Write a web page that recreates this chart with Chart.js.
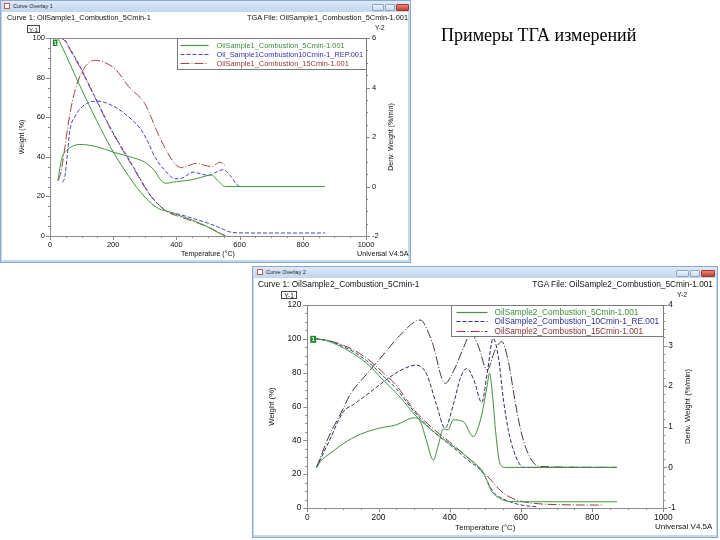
<!DOCTYPE html>
<html><head><meta charset="utf-8">
<script src="https://cdn.jsdelivr.net/npm/chart.js@4.4.0/dist/chart.umd.min.js"></script>
<style>
body{margin:0;width:720px;height:540px;background:#fff;position:relative;overflow:hidden;font-family:"Liberation Sans",Arial,sans-serif;color:#111;}
.win{position:absolute;box-sizing:border-box;background:#c4d8ef;border:1px solid #8aa9cf;}
.cont{position:absolute;background:#fff;}
.tbar{position:absolute;left:0;right:0;top:0;height:11px;background:linear-gradient(#dde9f7,#c2d6ee);}
.ttl{position:absolute;top:2px;font-size:5.5px;color:#222;white-space:nowrap;}
.ico{position:absolute;top:2px;width:6px;height:6px;border:1px solid #c55;background:#fff;box-sizing:border-box;}
.btn{position:absolute;top:3px;height:7px;box-sizing:border-box;border:1px solid #8ea6c4;background:linear-gradient(#eef4fb,#c9d9ec);border-radius:1px;}
.btn.x{background:linear-gradient(#e88a7a,#c5402c);border-color:#a33;}
canvas{position:absolute;}
.t{position:absolute;white-space:nowrap;line-height:1;}
.yb{position:absolute;border:1px solid #444;box-sizing:border-box;text-align:center;line-height:1;}
#title{position:absolute;left:441px;top:25px;font-family:"Liberation Serif","Times New Roman",serif;font-size:18px;color:#000;white-space:nowrap;}
</style></head>
<body>
<div class="win" style="left:0;top:0;width:411px;height:263px;">
  <div class="tbar"></div>
  <div class="ico" style="left:3px"></div>
  <div class="ttl" style="left:12px">Curve Overlay 1</div>
  <div class="btn" style="left:371px;width:12px"></div>
  <div class="btn" style="left:384px;width:10px"></div>
  <div class="btn x" style="left:395px;width:13px"></div>
  <div class="cont" style="left:2px;top:11px;width:405px;height:248px"></div>
</div>
<div class="win" style="left:252px;top:266px;width:466px;height:272px;">
  <div class="tbar"></div>
  <div class="ico" style="left:4px"></div>
  <div class="ttl" style="left:13px">Curve Overlay 2</div>
  <div class="btn" style="left:423px;width:13px"></div>
  <div class="btn" style="left:437px;width:10px"></div>
  <div class="btn x" style="left:448px;width:14px"></div>
  <div class="cont" style="left:2px;top:11px;width:460px;height:257px"></div>
</div>
<canvas id="c1" width="406" height="248" style="left:2px;top:12px"></canvas>
<canvas id="c2" width="462" height="257" style="left:254px;top:278px"></canvas>

<div class="t" style="left:7px;top:14px;font-size:7.4px">Curve 1: OilSample1_Combustion_5Cmin-1</div>
<div class="t" style="right:312px;top:14px;font-size:7.4px">TGA File: OilSample1_Combustion_5Cmin-1.001</div>
<div class="yb" style="left:27px;top:25px;width:13px;height:8px;font-size:6px;padding-top:1px">Y-1</div>
<div class="t" style="left:375px;top:25px;font-size:6.5px">Y-2</div>
<div class="t" style="left:357px;top:250px;font-size:7.2px">Universal V4.5A</div>

<div class="t" style="left:258px;top:280px;font-size:8.3px">Curve 1: OilSample2_Combustion_5Cmin-1</div>
<div class="t" style="right:7px;top:280px;font-size:8.3px">TGA File: OilSample2_Combustion_5Cmin-1.001</div>
<div class="yb" style="left:281px;top:291px;width:16px;height:8px;font-size:6.5px;padding-top:0.5px">Y-1</div>
<div class="t" style="left:677px;top:291px;font-size:7px">Y-2</div>
<div class="t" style="left:655px;top:523px;font-size:8px">Universal V4.5A</div>

<div id="title">Примеры ТГА измерений</div>

<script>
// ---------- shared ticks ----------
const xTickLabels = [0, 200, 400, 600, 800, 1000];

// ---------- Chart 1: OilSample1 ----------
const s1Names = ['OilSample1_Combustion_5Cmin-1.001', 'Oil_Sample1Combustion10Cmin-1_REP.001', 'OilSample1_Combustion_15Cmin-1.001'];
const s1LeftTicks = [0, 20, 40, 60, 80, 100];
const s1RightTicks = [-2, 0, 2, 4, 6];

const s1_5_wT = [25, 50, 100, 163, 200, 250, 300, 343, 380, 406, 453, 500, 538, 555];
const s1_5_w  = [100, 91.5, 74, 53.5, 42.5, 30, 19.7, 13.9, 12.1, 10.5, 7.9, 4.5, 1.2, 0];
const s1_10_wT = [30, 47, 60, 90, 142, 195, 258, 322, 374, 400, 450, 500, 540, 570, 600, 700, 870];
const s1_10_w  = [100, 99, 95.5, 87.2, 70.3, 53.5, 36.6, 19.7, 12.1, 11.3, 9, 6.5, 4, 2, 1.6, 1.5, 1.5];
const s1_15_wT = [28, 45, 60, 90, 142, 195, 258, 322, 374, 400, 450, 500, 530, 555];
const s1_15_w  = [100, 99, 95, 86.5, 70, 53, 36, 19.5, 12, 10.3, 7.6, 4.5, 2.2, 0.2];

const s1_5_dT = [25, 37, 53, 70, 95, 150, 200, 250, 300, 330, 350, 365, 400, 450, 500, 512, 530, 555, 870];
const s1_5_d  = [0.23, 1.12, 1.46, 1.62, 1.7, 1.6, 1.39, 1.21, 0.98, 0.65, 0.27, 0.13, 0.2, 0.27, 0.45, 0.47, 0.25, 0, 0];
const s1_10_dT = [40, 47, 55, 63, 80, 110, 150, 200, 250, 288, 310, 332, 364, 396, 420, 453, 480, 501, 530, 548, 570, 590, 601, 870];
const s1_10_d  = [0.17, 0.4, 1.3, 2.27, 2.85, 3.3, 3.45, 3.25, 2.8, 2.3, 1.8, 1.19, 0.65, 0.31, 0.35, 0.58, 0.5, 0.45, 0.6, 0.68, 0.45, 0.1, 0, 0];
const s1_15_dT = [26, 35, 45, 55, 70, 90, 115, 145, 175, 210, 248, 300, 320, 337, 374, 401, 417, 440, 465, 490, 511, 538, 559];
const s1_15_d  = [0.24, 0.6, 1.4, 2.3, 3.4, 4.3, 4.9, 5.1, 5.0, 4.7, 4.05, 3.35, 2.8, 2.27, 1.32, 0.85, 0.76, 0.85, 0.94, 0.85, 0.81, 0.98, 0.78];

// ---------- Chart 2: OilSample2 ----------
const s2Names = ['OilSample2_Combustion_5Cmin-1.001', 'OilSample2_Combustion_10Cmin-1_RE.001', 'OilSample2_Combustion_15Cmin-1.001'];
const s2LeftTicks = [0, 20, 40, 60, 80, 100, 120];
const s2RightTicks = [-1, 0, 1, 2, 3, 4];

const s2_5_wT = [25, 60, 120, 167, 213, 250, 279, 300, 350, 400, 450, 494, 505, 513, 525, 541, 555, 569, 600, 870];
const s2_5_w  = [100, 98.5, 92.4, 85.5, 75.6, 68, 61, 55.5, 46, 38, 30, 21, 16, 11.6, 8, 5.7, 4.3, 3.8, 3.7, 3.7];
const s2_10_wT = [25, 60, 120, 167, 213, 250, 300, 350, 400, 450, 494, 510, 522, 540, 569, 600, 648];
const s2_10_w  = [100, 98.8, 93.5, 87, 78, 70.5, 57, 46, 37.5, 28.5, 20.5, 14, 9.6, 6.5, 3.7, 1.8, 0.6];
const s2_15_wT = [25, 60, 120, 167, 213, 250, 300, 350, 400, 450, 494, 520, 541, 560, 588, 635, 700, 830];
const s2_15_w  = [100, 99, 94.5, 88.5, 80, 72.5, 58, 47.5, 39, 30, 21.5, 15.5, 10.6, 7.5, 4.7, 2.8, 2, 1.7];

const s2_5_dT = [26, 40, 54, 80, 100, 150, 200, 250, 300, 318, 335, 354, 368, 382, 395, 410, 438, 466, 490, 505, 512, 520, 530, 541, 555, 870];
const s2_5_d  = [0, 0.18, 0.28, 0.45, 0.58, 0.82, 0.96, 1.05, 1.22, 1.12, 0.65, 0.18, 0.55, 0.95, 0.92, 1.17, 1.13, 0.76, 1.3, 2.0, 2.32, 1.8, 0.8, 0.1, 0, 0];
const s2_10_dT = [26, 60, 101, 130, 167, 213, 260, 307, 335, 363, 387, 410, 430, 448, 468, 490, 505, 522, 537, 551, 565, 579, 595, 607, 870];
const s2_10_d  = [0, 0.62, 1.37, 1.55, 1.79, 2.1, 2.38, 2.52, 2.3, 1.54, 0.97, 1.54, 2.2, 2.44, 2.15, 1.6, 2.3, 3.18, 2.7, 1.66, 0.9, 0.43, 0.1, 0, 0];
const s2_15_dT = [26, 60, 101, 120, 167, 213, 260, 317, 350, 387, 415, 438, 460, 480, 505, 528, 546, 565, 583, 600, 616, 635, 654, 870];
const s2_15_d  = [0, 0.75, 1.45, 1.79, 2.3, 2.77, 3.25, 3.63, 3.1, 2.07, 2.45, 2.93, 3.3, 3.0, 2.4, 2.9, 3.1, 2.6, 1.66, 0.9, 0.43, 0.12, 0.02, 0];

// ---------- helpers ----------
const pts = (T, V) => T.map((t, i) => ({x: t, y: V[i]}));
const isIn = (arr, v) => arr.some(a => Math.abs(a - v) < 1e-6);
const FONT = '"Liberation Sans", Arial, sans-serif';

function ds(T, V, color, dash, axis, label) {
  return {label, data: pts(T, V), yAxisID: axis, borderColor: color, borderWidth: 1,
    borderDash: dash, pointRadius: 0, fill: false, cubicInterpolationMode: 'monotone'};
}

const deco = {
  id: 'deco',
  beforeDraw(chart) {
    const ctx = chart.ctx;
    ctx.save(); ctx.fillStyle = '#fff'; ctx.fillRect(0, 0, chart.width, chart.height); ctx.restore();
  },
  afterDraw(chart, args, o) {
    const {ctx, chartArea: a, scales} = chart;
    ctx.save();
    ctx.strokeStyle = o.axisColor; ctx.lineWidth = 1;
    ctx.beginPath(); ctx.moveTo(a.left, Math.round(a.top) + 0.5); ctx.lineTo(a.right, Math.round(a.top) + 0.5); ctx.stroke();
    ctx.beginPath();
    scales.x.ticks.forEach(t => {
      const p = Math.round(scales.x.getPixelForValue(t.value)) + 0.5;
      const len = isIn(o.xMajor, t.value) ? 4 : 2;
      ctx.moveTo(p, a.bottom); ctx.lineTo(p, a.bottom + len);
    });
    scales.y.ticks.forEach(t => {
      const p = Math.round(scales.y.getPixelForValue(t.value)) + 0.5;
      const len = isIn(o.yMajor, t.value) ? 4 : 2;
      ctx.moveTo(a.left - len, p); ctx.lineTo(a.left, p);
    });
    scales.y2.ticks.forEach(t => {
      const p = Math.round(scales.y2.getPixelForValue(t.value)) + 0.5;
      const len = isIn(o.y2Major, t.value) ? 4 : 2;
      ctx.moveTo(a.right, p); ctx.lineTo(a.right + len, p);
    });
    ctx.stroke();
    ctx.fillStyle = '#111';
    ctx.font = o.titleSize + 'px ' + FONT;
    ctx.textAlign = 'center'; ctx.textBaseline = 'middle';
    ctx.fillText('Temperature (°C)', (a.left + a.right) / 2, a.bottom + o.xTitleOff);
    ctx.save(); ctx.translate(a.left + o.yTitleOff, (a.top + a.bottom) / 2); ctx.rotate(-Math.PI / 2);
    ctx.fillText('Weight (%)', 0, 0); ctx.restore();
    ctx.save(); ctx.translate(a.right + o.y2TitleOff, (a.top + a.bottom) / 2); ctx.rotate(-Math.PI / 2);
    ctx.fillText('Deriv. Weight (%/min)', 0, 0); ctx.restore();
    const L = o.legend;
    const lx = Math.round(a.right - L.w) + 0.5, ly = Math.round(a.top) + 0.5;
    ctx.fillStyle = '#fff'; ctx.fillRect(lx, ly, L.w, L.h);
    ctx.strokeStyle = '#7a7a7a'; ctx.setLineDash([]); ctx.strokeRect(lx, ly, L.w, L.h);
    ctx.font = L.font + 'px ' + FONT; ctx.textAlign = 'left';
    L.names.forEach((n, i) => {
      const y = Math.round(ly + L.rowY[i]) + 0.5;
      ctx.strokeStyle = L.lineColors[i]; ctx.setLineDash(L.dashes[i]); ctx.lineWidth = 1.2;
      ctx.beginPath(); ctx.moveTo(lx + L.sx0, y); ctx.lineTo(lx + L.sx1, y); ctx.stroke();
      ctx.fillStyle = L.textColors[i];
      ctx.fillText(n, lx + L.tx, y);
    });
    ctx.setLineDash([]);
    const g = chart.data.datasets[0].data[0];
    const mx = scales.x.getPixelForValue(g.x), my = scales.y.getPixelForValue(g.y);
    const M = o.marker;
    ctx.fillStyle = '#1f8a2a';
    ctx.fillRect(mx + M.dx, my + M.dy, M.w, M.h);
    ctx.fillStyle = '#fff'; ctx.font = 'bold ' + M.fs + 'px ' + FONT; ctx.textAlign = 'center';
    ctx.fillText('1', mx + M.dx + M.w / 2, my + M.dy + M.h / 2 + 0.5);
    ctx.restore();
  }
};

function makeChart(id, datasets, c) {
  const tickFont = {family: FONT, size: c.tickSize};
  const fit = (prop, val) => (s) => { s[prop] = val; };
  return new Chart(document.getElementById(id), {
    type: 'line',
    data: {datasets},
    options: {
      responsive: false, animation: false, devicePixelRatio: 1,
      layout: {padding: {top: c.padTop, left: 0, right: 0, bottom: 0}},
      plugins: {legend: {display: false}, tooltip: {enabled: false}, deco: c.deco},
      scales: {
        x: {type: 'linear', min: 0, max: 1000, afterFit: fit('height', c.xH),
          grid: {display: false, drawTicks: false}, border: {display: true, color: c.axisColor},
          ticks: {stepSize: 50, autoSkip: false, maxRotation: 0, padding: c.xPad, font: tickFont, color: '#111',
            callback: v => isIn(xTickLabels, v) ? String(Math.round(v)) : ''}},
        y: {type: 'linear', position: 'left', min: c.yMin, max: c.yMax, afterFit: fit('width', c.yW),
          grid: {display: false, drawTicks: false}, border: {display: true, color: c.axisColor},
          ticks: {stepSize: 5, autoSkip: false, padding: c.yPad, font: tickFont, color: '#111',
            callback: v => isIn(c.yTicks, v) ? String(Math.round(v)) : ''}},
        y2: {type: 'linear', position: 'right', min: c.y2Min, max: c.y2Max, afterFit: fit('width', c.y2W),
          grid: {display: false, drawTicks: false}, border: {display: true, color: c.axisColor},
          ticks: {stepSize: c.y2Step, autoSkip: false, padding: c.y2Pad, font: tickFont, color: '#111',
            callback: v => isIn(c.y2Ticks, v) ? String(Math.round(v)) : ''}}
      }
    },
    plugins: [deco]
  });
}

const D_BLUE = [4, 2], D_RED = [9, 2, 1, 2];
const c1Col = ['#3f9a3f', '#4545c8', '#a34545'];
const c2W = ['#3f9a3f', '#3c3c8c', '#8a4040'];
const c2D = ['#3f8f3f', '#2e2e5e', '#4a3434'];

makeChart('c1', [
  ds(s1_5_wT, s1_5_w, c1Col[0], [], 'y', s1Names[0]),
  ds(s1_10_wT, s1_10_w, c1Col[1], D_BLUE, 'y', s1Names[1]),
  ds(s1_15_wT, s1_15_w, c1Col[2], D_RED, 'y', s1Names[2]),
  ds(s1_5_dT, s1_5_d, c1Col[0], [], 'y2', s1Names[0]),
  ds(s1_10_dT, s1_10_d, c1Col[1], D_BLUE, 'y2', s1Names[1]),
  ds(s1_15_dT, s1_15_d, c1Col[2], D_RED, 'y2', s1Names[2])
], {
  tickSize: 7.5, padTop: 26, xH: 24, yW: 48, y2W: 42, xPad: 4, yPad: 5, y2Pad: 6,
  yMin: 0, yMax: 100, yTicks: s1LeftTicks, y2Min: -2, y2Max: 6, y2Step: 0.5, y2Ticks: s1RightTicks,
  axisColor: '#8a8a8a',
  deco: {axisColor: '#8a8a8a', xMajor: xTickLabels, yMajor: s1LeftTicks, y2Major: s1RightTicks,
    titleSize: 7, xTitleOff: 18.3, yTitleOff: -28, y2TitleOff: 25,
    legend: {w: 189, h: 31, names: s1Names, rowY: [6.3, 15.6, 24.6], sx0: 3, sx1: 31, tx: 39, font: 7.4,
      lineColors: c1Col, dashes: [[], D_BLUE, D_RED], textColors: ['#3a8f3a', '#3434b0', '#9a3434']},
    marker: {dx: -5, dy: 1.5, w: 4.5, h: 6.5, fs: 5}}
});

makeChart('c2', [
  ds(s2_5_wT, s2_5_w, c2W[0], [], 'y', s2Names[0]),
  ds(s2_10_wT, s2_10_w, c2W[1], D_BLUE, 'y', s2Names[1]),
  ds(s2_15_wT, s2_15_w, c2W[2], D_RED, 'y', s2Names[2]),
  ds(s2_5_dT, s2_5_d, c2D[0], [], 'y2', s2Names[0]),
  ds(s2_10_dT, s2_10_d, c2D[1], D_BLUE, 'y2', s2Names[1]),
  ds(s2_15_dT, s2_15_d, c2D[2], D_RED, 'y2', s2Names[2])
], {
  tickSize: 8.3, padTop: 27, xH: 27, yW: 53.3, y2W: 52.7, xPad: 5, yPad: 6, y2Pad: 5,
  yMin: 0, yMax: 120, yTicks: s2LeftTicks, y2Min: -1, y2Max: 4, y2Step: 0.2, y2Ticks: s2RightTicks,
  axisColor: '#8a8a8a',
  deco: {axisColor: '#8a8a8a', xMajor: xTickLabels, yMajor: s2LeftTicks, y2Major: s2RightTicks,
    titleSize: 7.8, xTitleOff: 19.7, yTitleOff: -35.5, y2TitleOff: 25,
    legend: {w: 212, h: 31, names: s2Names, rowY: [6.7, 15.7, 25], sx0: 5, sx1: 36, tx: 43, font: 8.3,
      lineColors: ['#3f9a3f', '#2f2f9a', '#a03535'], dashes: [[], D_BLUE, D_RED], textColors: ['#3a8f3a', '#30309c', '#8c3030']},
    marker: {dx: -6, dy: -3, w: 6, h: 7, fs: 6}}
});
</script>
</body></html>
